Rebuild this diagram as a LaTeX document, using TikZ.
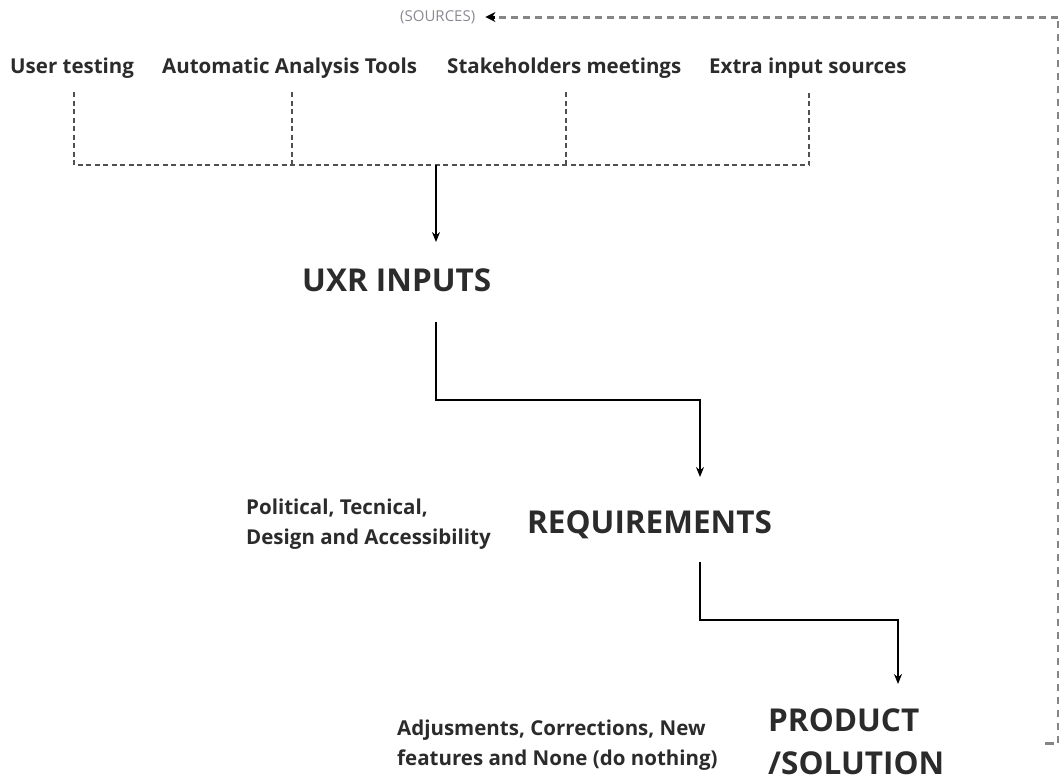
\documentclass[tikz,border=0pt]{standalone}
\usepackage{fontspec}
\setmainfont{Open Sans}
\usetikzlibrary{arrows.meta}
\definecolor{txt}{HTML}{2B2B2B}
\definecolor{dgray}{HTML}{505050}
\definecolor{lgray}{HTML}{858585}
\definecolor{srcgray}{HTML}{8A8A95}
\begin{document}
\begin{tikzpicture}[x=1pt,y=-1pt,
  lbl/.style={inner sep=0pt,text=txt,anchor=base west,font=\fontsize{20.5}{24}\selectfont\bfseries},
  big/.style={inner sep=0pt,text=txt,anchor=base west,font=\fontsize{31.5}{42}\selectfont\bfseries},
  note/.style={inner sep=0pt,text=txt,anchor=base west,font=\fontsize{20.5}{30}\selectfont\bfseries},
  tree/.style={draw=dgray,line width=1.1pt,dash pattern=on 5pt off 3.5pt},
  loopv/.style={draw=lgray,line width=1.5pt,dash pattern=on 7pt off 6pt},
  looph/.style={draw=lgray,line width=3pt,dash pattern=on 7pt off 5pt},
  flow/.style={draw=black,line width=1.4pt,-{Stealth[length=10pt,width=8pt]}}]
\useasboundingbox (0,0) rectangle (1062,780);
% labels
\node[inner sep=0pt,text=srcgray,anchor=west,font=\fontsize{15}{16}\selectfont] (src) at (400,17) {(SOURCES)};
\node[lbl] (ut) at (10,73) {User testing};
\node[lbl] (aat) at (162,73) {Automatic Analysis Tools};
\node[lbl] (sm) at (447,73) {Stakeholders meetings};
\node[lbl] (eis) at (709,73) {Extra input sources};
\node[big] (uxr) at (302,291) {UXR INPUTS};
\node[big] (req) at (527,533) {REQUIREMENTS};
\node[big] (prod1) at (768,731) {PRODUCT};
\node[big] (prod2) at (768,774) {/SOLUTION};
\node[note] (pol1) at (246,514) {Political, Tecnical,};
\node[note] (pol2) at (246,544) {Design and Accessibility};
\node[note] (adj1) at (397,735) {Adjusments, Corrections, New};
\node[note] (adj2) at (397,765) {features and None (do nothing)};
% coordinates
\coordinate (j) at (436,165);
\coordinate (t1) at (74,92);
\coordinate (t2) at (292,92);
\coordinate (t3) at (566,92);
\coordinate (t4) at (809,92);
\coordinate (ls) at (1045,743);
\coordinate (lc) at (1058,17);
% dashed gathering tree
\draw[tree] (t1) -- (74,165) -- (809,165) -- (t4);
\draw[tree] (t2) -- (292,165);
\draw[tree] (t3) -- (566,165);
% flows
\draw[flow] (j) -- (436,242);
\draw[flow] (436,322) -- (436,400) -- (700,400) -- (700,477);
\draw[flow] (700,562) -- (700,620) -- (898,620) -- (898,684);
% feedback loop
\draw[looph,dash pattern=on 8pt off 0pt] (ls) -- (1054,743);
\draw[loopv] (1058,743) -- (lc);
\draw[looph] (lc) -- ([xshift=20pt]src.east);
\draw[black,line width=3pt,-{Stealth[length=10pt,width=10pt]}] ([xshift=20pt]src.east) -- ([xshift=10pt]src.east);
\end{tikzpicture}
\end{document}
